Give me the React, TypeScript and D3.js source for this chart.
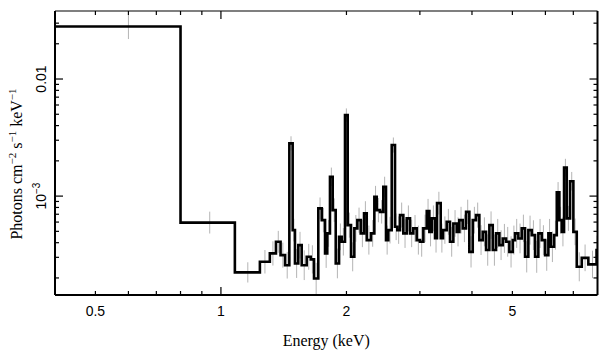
import React from "react";
import * as d3 from "d3";

// Bin edges (keV) of the unfolded spectrum
const binEdges: number[] = [
  0.4, 0.8, 1.08, 1.24, 1.31, 1.355, 1.39, 1.425, 1.459, 1.486,
  1.505, 1.533, 1.562, 1.606, 1.642, 1.672, 1.712, 1.745, 1.777, 1.799,
  1.826, 1.854, 1.885, 1.92, 1.948, 1.984, 2.014, 2.051, 2.089, 2.124,
  2.164, 2.204, 2.237, 2.29, 2.333, 2.364, 2.407, 2.451, 2.488, 2.52,
  2.568, 2.615, 2.648, 2.688, 2.738, 2.79, 2.841, 2.893, 2.948, 3.002,
  3.058, 3.116, 3.161, 3.203, 3.262, 3.298, 3.366, 3.409, 3.479, 3.543,
  3.609, 3.677, 3.73, 3.801, 3.871, 3.942, 4.017, 4.09, 4.166, 4.245,
  4.323, 4.403, 4.486, 4.569, 4.653, 4.741, 4.828, 4.917, 5.01, 5.074,
  5.167, 5.265, 5.362, 5.461, 5.564, 5.667, 5.771, 5.88, 5.989, 6.099,
  6.18, 6.294, 6.389, 6.481, 6.568, 6.651, 6.751, 6.875, 7.002, 7.134,
  7.334, 7.606, 7.958, 8.0,
];

// Flux per bin (photons cm^-2 s^-1 keV^-1)
const flux: number[] = [
  0.0281, 5.94e-4, 2.23e-4, 2.75e-4, 3.24e-4, 4.07e-4, 3.13e-4, 2.57e-4, 2.82e-3, 5.12e-4,
  2.66e-4, 3.81e-4, 2.57e-4, 3.03e-4, 2.88e-4, 1.98e-4, 7.85e-4, 6.23e-4, 3.24e-4, 4.8e-4,
  1.46e-3, 7.59e-4, 2.66e-4, 4.49e-4, 4.07e-4, 4.92e-3, 5.65e-4, 3.03e-4, 5.3e-4, 6.23e-4,
  4.8e-4, 7.12e-4, 4.21e-4, 4.8e-4, 9.86e-4, 7.59e-4, 7.34e-4, 1.2e-3, 4.21e-4, 5.12e-4,
  2.73e-3, 5.47e-4, 5.12e-4, 6.88e-4, 4.8e-4, 6.45e-4, 4.8e-4, 5.3e-4, 4.21e-4, 4.07e-4,
  5.3e-4, 7.45e-4, 4.95e-4, 6.45e-4, 4.38e-4, 8.71e-4, 4.38e-4, 5.12e-4, 6.03e-4, 4.07e-4,
  5.84e-4, 4.95e-4, 6.23e-4, 5.3e-4, 7.34e-4, 3.34e-4, 6.23e-4, 6.88e-4, 4.21e-4, 4.95e-4,
  3.46e-4, 5.65e-4, 3.46e-4, 4.8e-4, 3.81e-4, 4.35e-4, 4.07e-4, 3.34e-4, 4.21e-4, 4.8e-4,
  4.35e-4, 5.3e-4, 3.03e-4, 5.12e-4, 4.64e-4, 3.03e-4, 4.8e-4, 4.21e-4, 3.13e-4, 4.8e-4,
  3.69e-4, 4.64e-4, 1.08e-3, 6.23e-4, 4.95e-4, 1.75e-3, 6.45e-4, 1.34e-3, 4.95e-4, 2.49e-4,
  2.97e-4, 2.61e-4, 3.46e-4,
];

// Relative 1-sigma error per bin
const relErr: number[] = [
  0.28, 0.24, 0.22, 0.26, 0.27, 0.24, 0.28, 0.3, 0.15, 0.25,
  0.33, 0.3, 0.34, 0.29, 0.32, 0.36, 0.24, 0.27, 0.33, 0.3,
  0.2, 0.26, 0.34, 0.3, 0.31, 0.14, 0.28, 0.33, 0.3, 0.28,
  0.31, 0.27, 0.33, 0.3, 0.24, 0.27, 0.26, 0.22, 0.33, 0.3,
  0.16, 0.3, 0.31, 0.28, 0.33, 0.29, 0.31, 0.3, 0.33, 0.34,
  0.31, 0.27, 0.33, 0.29, 0.33, 0.25, 0.33, 0.31, 0.29, 0.34,
  0.3, 0.33, 0.3, 0.31, 0.27, 0.36, 0.3, 0.28, 0.34, 0.33,
  0.36, 0.31, 0.36, 0.33, 0.34, 0.33, 0.34, 0.36, 0.33, 0.33,
  0.34, 0.31, 0.36, 0.33, 0.34, 0.37, 0.33, 0.34, 0.36, 0.33,
  0.35, 0.33, 0.22, 0.3, 0.33, 0.19, 0.28, 0.2, 0.3, 0.33,
  0.3, 0.31, 0.33,
];

const xDomain: [number, number] = [0.4, 8.0];
const yDomain: [number, number] = [1.43e-4, 0.0381];
const xMajorTicks = [1];
const xMinorTicks = [0.5, 0.6, 0.7, 0.8, 0.9, 2, 3, 4, 5, 6, 7];
const xTickLabels = [0.5, 1, 2, 5];
const yMajorTicks = [1e-3, 1e-2];
const yMinorTicks = [2e-4, 3e-4, 4e-4, 5e-4, 6e-4, 7e-4, 8e-4, 9e-4, 2e-3, 3e-3, 4e-3, 5e-3, 6e-3, 7e-3, 8e-3, 9e-3, 2e-2, 3e-2];

export default function App() {
  const W = 609, H = 357;
  const L = 55, R = 597.5, T = 11, B = 295;
  const x = d3.scaleLog().domain(xDomain).range([L, R]);
  const y = d3.scaleLog().domain(yDomain).range([B, T]);

  const pts: [number, number][] = [];
  flux.forEach((f, i) => {
    pts.push([binEdges[i], f]);
    pts.push([binEdges[i + 1], f]);
  });
  const line = d3.line<[number, number]>().x((d) => x(d[0])).y((d) => y(d[1]));
  const pathD = line(pts) || "";

  const sans = "'Liberation Sans', Arial, Helvetica, sans-serif";
  const serif = "'Liberation Serif', 'Times New Roman', serif";
  const majLen = 8, minLen = 4;

  return (
    <svg width={W} height={H} style={{ position: "absolute", left: 0, top: 0, background: "#fff" }}>
      <rect x={0} y={0} width={W} height={H} fill="#fff" />
      <defs>
        <clipPath id="plotclip">
          <rect x={L} y={T} width={R - L} height={B - T} />
        </clipPath>
      </defs>
      {/* error bars */}
      <g clipPath="url(#plotclip)" stroke="#b4b4b4" strokeWidth={1}>
        {flux.map((f, i) => {
          const xc = x((binEdges[i] + binEdges[i + 1]) / 2);
          const e = relErr[i];
          return <line key={i} x1={xc} x2={xc} y1={y(f * (1 + e))} y2={y(f / (1 + e))} />;
        })}
      </g>
      {/* spectrum */}
      <path d={pathD} fill="none" stroke="#000" strokeWidth={2.6} strokeLinejoin="miter" clipPath="url(#plotclip)" />
      {/* frame */}
      <g stroke="#000">
        <line x1={L} x2={R} y1={T} y2={T} strokeWidth={1.2} />
        <line x1={L} x2={R} y1={B} y2={B} strokeWidth={2} />
        <line x1={L} x2={L} y1={T} y2={B} strokeWidth={2} />
        <line x1={R} x2={R} y1={T} y2={B} strokeWidth={2} />
      </g>
      {/* ticks */}
      <g stroke="#000" strokeWidth={1.2}>
        {xMajorTicks.map((t) => (
          <g key={"xM" + t}>
            <line x1={x(t)} x2={x(t)} y1={B} y2={B - majLen} />
            <line x1={x(t)} x2={x(t)} y1={T} y2={T + majLen} />
          </g>
        ))}
        {xMinorTicks.map((t) => (
          <g key={"xm" + t}>
            <line x1={x(t)} x2={x(t)} y1={B} y2={B - minLen} />
            <line x1={x(t)} x2={x(t)} y1={T} y2={T + minLen} />
          </g>
        ))}
        {yMajorTicks.map((t) => (
          <g key={"yM" + t}>
            <line x1={L} x2={L + majLen} y1={y(t)} y2={y(t)} />
            <line x1={R} x2={R - majLen} y1={y(t)} y2={y(t)} />
          </g>
        ))}
        {yMinorTicks.map((t) => (
          <g key={"ym" + t}>
            <line x1={L} x2={L + minLen} y1={y(t)} y2={y(t)} />
            <line x1={R} x2={R - minLen} y1={y(t)} y2={y(t)} />
          </g>
        ))}
      </g>
      {/* x tick labels */}
      <g fontFamily={sans} fontSize={14} textAnchor="middle" fill="#000">
        {xTickLabels.map((t) => (
          <text key={"xl" + t} x={x(t)} y={316}>{String(t)}</text>
        ))}
      </g>
      {/* y tick labels */}
      <g fontFamily={sans} fontSize={14} textAnchor="middle" fill="#000">
        <text transform={`translate(46,${y(1e-2)}) rotate(-90)`}>0.01</text>
        <text transform={`translate(46,${y(1e-3)}) rotate(-90)`}>
          10<tspan fontSize={10} dy={-6}>−3</tspan>
        </text>
      </g>
      {/* axis titles */}
      <text x={(L + R) / 2} y={346} textAnchor="middle" fontFamily={serif} fontSize={16} fill="#000">
        Energy (keV)
      </text>
      <text transform={`translate(22,164) rotate(-90)`} textAnchor="middle" fontFamily={serif} fontSize={16} fill="#000">
        Photons cm<tspan fontSize={11} dy={-6}>−2</tspan>
        <tspan dy={6}> s</tspan><tspan fontSize={11} dy={-6}>−1</tspan>
        <tspan dy={6}> keV</tspan><tspan fontSize={11} dy={-6}>−1</tspan>
      </text>
    </svg>
  );
}
